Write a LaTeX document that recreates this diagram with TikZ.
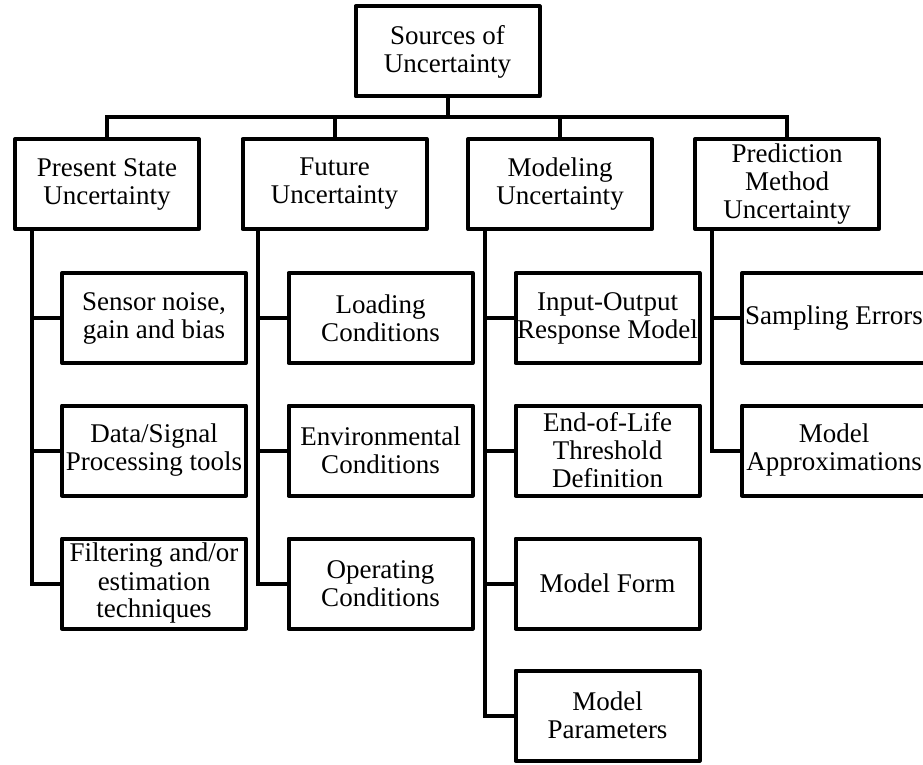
\documentclass[tikz,border=0pt]{standalone}
\usepackage{fontspec}
\setmainfont{Liberation Serif}
\begin{document}
\begin{tikzpicture}[x=1pt,y=-1pt,
  box/.style={draw, line width=4pt, line join=round, minimum width=184pt, minimum height=90pt,
    inner sep=0pt, align=center, font=\fontsize{27}{28}\selectfont},
  conn/.style={line width=4pt, line join=miter}]
\useasboundingbox (0,0) rectangle (923,765);
\clip (0,0) rectangle (923,765);
% top
\node[box] (top) at (447.5,51.5) {Sources of\\Uncertainty};
% level 1
\node[box] (p) at (107,184) {Present State\\Uncertainty};
\node[box] (f) at (334.5,184) {Future\\Uncertainty};
\node[box] (m) at (560,184) {Modeling\\Uncertainty};
\node[box] (r) at (787,184) {Prediction\\Method\\Uncertainty};
% children
\node[box] (p1) at (154,318) {Sensor noise,\\gain and bias};
\node[box] (p2) at (154,450.5) {Data/Signal\\Processing tools};
\node[box] (p3) at (154,583.5) {Filtering and/or\\estimation\\techniques};
\node[box] (f1) at (380.5,318) {Loading\\Conditions};
\node[box] (f2) at (380.5,450.5) {Environmental\\Conditions};
\node[box] (f3) at (380.5,583.5) {Operating\\Conditions};
\node[box] (m1) at (607.5,318) {Input-Output\\Response Model};
\node[box] (m2) at (607.5,450.5) {End-of-Life\\Threshold\\Definition};
\node[box] (m3) at (607.5,583.5) {Model Form};
\node[box] (m4) at (607.5,715.5) {Model\\Parameters};
\node[box] (r1) at (834,318) {Sampling Errors};
\node[box] (r2) at (834,450.5) {Model\\Approximations};
% bus
\coordinate (bus) at (0,117.5);
\draw[conn] (top.south) -- (top.south |- bus);
\draw[conn] (p.north) -- (p.north |- bus) -- (r.north |- bus) -- (r.north);
\draw[conn] (f.north) -- (f.north |- bus);
\draw[conn] (m.north) -- (m.north |- bus);
% trunks
\coordinate (pa) at (32,0);
\coordinate (fa) at (258,0);
\coordinate (ma) at (485,0);
\coordinate (ra) at (712,0);
\draw[conn] (pa |- p.south) |- (p3.west);
\draw[conn] (pa |- p1.west) -- (p1.west);
\draw[conn] (pa |- p2.west) -- (p2.west);
\draw[conn] (fa |- f.south) |- (f3.west);
\draw[conn] (fa |- f1.west) -- (f1.west);
\draw[conn] (fa |- f2.west) -- (f2.west);
\draw[conn] (ma |- m.south) |- (m4.west);
\draw[conn] (ma |- m1.west) -- (m1.west);
\draw[conn] (ma |- m2.west) -- (m2.west);
\draw[conn] (ma |- m3.west) -- (m3.west);
\draw[conn] (ra |- r.south) |- (r2.west);
\draw[conn] (ra |- r1.west) -- (r1.west);
\end{tikzpicture}
\end{document}
